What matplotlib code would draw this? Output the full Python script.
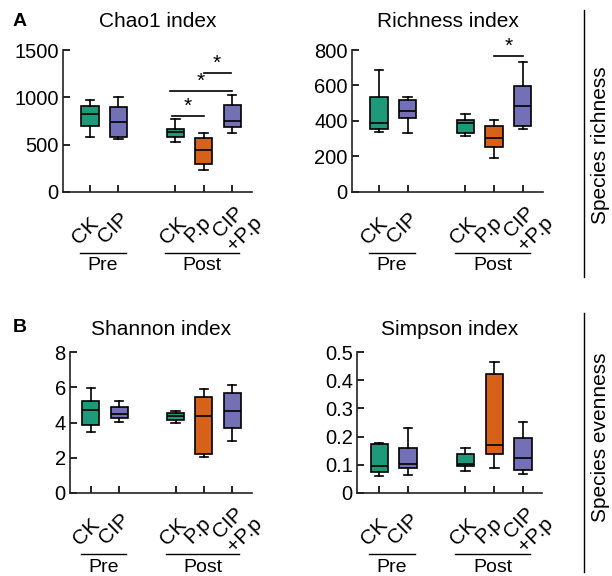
import numpy as np
import matplotlib
matplotlib.use("Agg")
import matplotlib.pyplot as plt

plt.rcParams['font.family'] = ['Liberation Sans', 'DejaVu Sans']

W, H = 612, 576

groups = ["CK", "CIP", "CK", "P.p", "CIP\n+P.p"]
positions = [1, 2, 4, 5, 6]
colors = ["#1f9a78", "#7470b5", "#1f9a78", "#d6621a", "#7470b5"]

# box stats per group: whislo, q1, med, q3, whishi
chao1 = [[582, 699, 819, 907, 971],
         [561, 582, 741, 900, 1000],
         [530, 582, 635, 667, 766],
         [236, 300, 441, 575, 621],
         [618, 685, 748, 914, 1024]]
richness = [[338, 357, 388, 537, 690],
            [335, 416, 459, 520, 533],
            [316, 331, 388, 403, 437],
            [193, 251, 306, 372, 405],
            [357, 374, 486, 599, 735]]
shannon = [[3.44, 3.88, 4.70, 5.21, 5.95],
           [4.01, 4.26, 4.47, 4.87, 5.23],
           [3.95, 4.14, 4.37, 4.56, 4.66],
           [2.05, 2.24, 4.37, 5.42, 5.89],
           [2.95, 3.71, 4.68, 5.67, 6.14]]
simpson = [[0.061, 0.073, 0.097, 0.173, 0.177],
           [0.064, 0.089, 0.102, 0.160, 0.232],
           [0.077, 0.097, 0.104, 0.137, 0.159],
           [0.088, 0.139, 0.171, 0.423, 0.464],
           [0.069, 0.080, 0.123, 0.196, 0.253]]

# significance bars: (x1, x2, y)
chao1_sig = [(3.9, 5.0, 808), (3.8, 6.0, 1070), (5.0, 5.95, 1260)]
richness_sig = [(5.0, 6.0, 766)]


def px_axes(fig, left, right, top, bottom):
    return fig.add_axes([left / W, 1 - bottom / H, (right - left) / W, (bottom - top) / H])


def draw_panel(ax, data, title, ylim, yticks, yticklabels, xlim, sig=(), tpad=12):
    stats = []
    for d in data:
        stats.append(dict(whislo=d[0], q1=d[1], med=d[2], q3=d[3], whishi=d[4], fliers=[]))
    bp = ax.bxp(stats, positions=positions, widths=0.6, patch_artist=True,
                showfliers=False,
                boxprops=dict(linewidth=1.2, edgecolor='black'),
                medianprops=dict(color='black', linewidth=1.2),
                whiskerprops=dict(color='black', linewidth=1.2),
                capprops=dict(color='black', linewidth=1.2))
    for patch, c in zip(bp['boxes'], colors):
        patch.set_facecolor(c)
    for x1, x2, y in sig:
        ax.plot([x1, x2], [y, y], color='black', lw=1.2, clip_on=False)
        ax.text((x1 + x2) / 2, y, "*", ha='center', va='bottom', fontsize=15)
    ax.set_ylim(*ylim)
    ax.set_xlim(*xlim)
    ax.set_yticks(yticks)
    ax.set_yticklabels(yticklabels, fontsize=14.5)
    ax.set_xticks(positions)
    ax.set_xticklabels([])
    ax.tick_params(direction='in', length=5, width=1.2, colors='black')
    ax.tick_params(axis='y', pad=3)
    for s in ['top', 'right']:
        ax.spines[s].set_visible(False)
    for s in ['left', 'bottom']:
        ax.spines[s].set_linewidth(1.2)
        ax.spines[s].set_color('#222222')
    ax.set_title(title, fontsize=15, pad=tpad)

    # rotated group labels (offsets in points from tick at axis)
    offs = [(-3.6, -28), (-3.6, -25.5), (-1.4, -28), (-4.3, -26.6), (4, -25)]
    for x, lab, (dx, dy) in zip(positions, groups, offs):
        ax.annotate(lab, xy=(x, 0), xycoords=('data', 'axes fraction'),
                    xytext=(dx, dy), textcoords='offset points',
                    rotation=45, ha='center', va='center', fontsize=15,
                    multialignment='left', linespacing=1.1,
                    annotation_clip=False)
    tr = ax.get_xaxis_transform()
    hgt = ax.get_position().height * H
    for x1, x2, name in [(0.65, 2.25, "Pre"), (3.65, 6.25, "Post")]:
        ax.plot([x1, x2], [-61 / hgt, -61 / hgt], color='black', lw=1.0,
                transform=tr, clip_on=False)
        ax.text((x1 + x2) / 2, -74 / hgt, name, ha='center', va='center',
                fontsize=14, transform=tr)


fig = plt.figure(figsize=(W / 100, H / 100), dpi=100)

ax1 = px_axes(fig, 63, 252, 50, 192)
draw_panel(ax1, chao1, "Chao1 index", (0, 1500), [0, 500, 1000, 1500],
           ["0", "500", "1000", "1500"], (0.05, 6.7), chao1_sig, tpad=16.5)

ax2 = px_axes(fig, 352, 543, 50, 192)
draw_panel(ax2, richness, "Richness index", (0, 800), [0, 200, 400, 600, 800],
           ["0", "200", "400", "600", "800"], (0.06, 6.7), richness_sig, tpad=16.5)

ax3 = px_axes(fig, 70, 252, 352, 493)
draw_panel(ax3, shannon, "Shannon index", (0, 8), [0, 2, 4, 6, 8],
           ["0", "2", "4", "6", "8"], (0.26, 6.7))

ax4 = px_axes(fig, 357, 542, 352, 493)
draw_panel(ax4, simpson, "Simpson index", (0, 0.5), [0, 0.1, 0.2, 0.3, 0.4, 0.5],
           ["0", "0.1", "0.2", "0.3", "0.4", "0.5"], (0.23, 6.66))

fig.text(13 / W, 1 - 21 / H, "A", fontsize=14, fontweight='bold', ha='left', va='center')
fig.text(13 / W, 1 - 328 / H, "B", fontsize=14, fontweight='bold', ha='left', va='center')

# right-hand brackets
fig.add_artist(plt.Line2D([584 / W, 584 / W], [1 - 10 / H, 1 - 277 / H], color='black', lw=1.0))
fig.add_artist(plt.Line2D([584 / W, 584 / W], [1 - 313 / H, 1 - 572 / H], color='black', lw=1.0))
fig.text(600 / W, 1 - 145 / H, "Species richness", rotation=90, ha='center', va='center', fontsize=15)
fig.text(600 / W, 1 - 437 / H, "Species evenness", rotation=90, ha='center', va='center', fontsize=15)

fig.savefig("out.png", dpi=100)
